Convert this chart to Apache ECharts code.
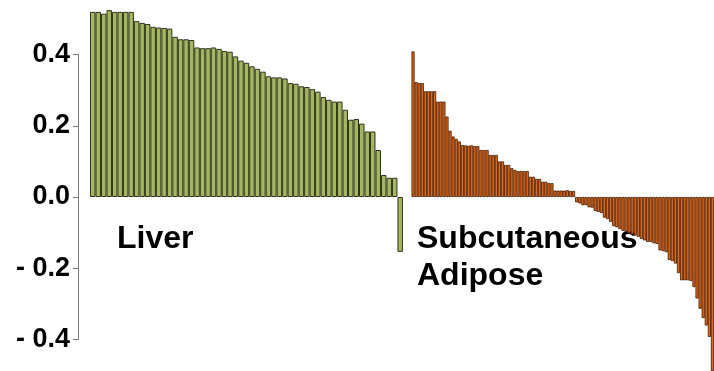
<!DOCTYPE html>
<html>
<head>
<meta charset="utf-8">
<script src="https://cdn.jsdelivr.net/npm/echarts@6/dist/echarts.min.js"></script>
<style>
  html, body { margin: 0; padding: 0; background: #fff; }
  #chart { width: 714px; height: 371px; }
</style>
</head>
<body>
<div id="chart"></div>
<script>
// 数据
const liverValues = [
  0.52, 0.52, 0.515, 0.525, 0.52, 0.52, 0.52, 0.52,
  0.494, 0.489, 0.486, 0.478, 0.476, 0.475, 0.473, 0.45, 0.443, 0.443, 0.441,
  0.42, 0.418, 0.418, 0.42, 0.416, 0.41, 0.408, 0.395, 0.383, 0.377, 0.367,
  0.36, 0.352, 0.339, 0.336, 0.336, 0.333, 0.32, 0.318,
  0.311, 0.309, 0.303, 0.296, 0.281, 0.273, 0.268, 0.268, 0.245, 0.217,
  0.219, 0.206, 0.184, 0.184, 0.132, 0.062, 0.054, 0.054, -0.154
];
const adiposeValues = [
  0.409, 0.323, 0.32, 0.32, 0.297, 0.297, 0.297, 0.297, 0.268, 0.268, 0.268,
  0.226, 0.186, 0.17, 0.163, 0.156, 0.146, 0.145, 0.144, 0.145, 0.143, 0.143,
  0.132, 0.132, 0.132, 0.118, 0.118, 0.118, 0.1, 0.1, 0.09, 0.09, 0.081, 0.076,
  0.073, 0.073, 0.073, 0.073, 0.057, 0.057, 0.051, 0.051, 0.043, 0.043,
  0.039, 0.039, 0.018, 0.018, 0.018, 0.018, 0.019, 0.017, 0.017,
  -0.015, -0.018, -0.023, -0.023, -0.029, -0.03, -0.039, -0.042, -0.045,
  -0.058, -0.062, -0.07, -0.082, -0.085, -0.09, -0.095, -0.098, -0.102,
  -0.105, -0.108, -0.112, -0.118, -0.122, -0.126, -0.126, -0.13, -0.132,
  -0.15, -0.152, -0.155, -0.177, -0.18, -0.187, -0.214, -0.234, -0.234,
  -0.234, -0.236, -0.253, -0.285, -0.314, -0.34, -0.361, -0.393, -0.52
];
const yTicks = [-0.4, -0.2, 0, 0.2, 0.4];
const yTickLabels = ['- 0.4', '- 0.2', '0.0', '0.2', '0.4'];
const groupLabels = ['Liver', 'Subcutaneous', 'Adipose'];

// 比例: 零点在 y=197，每单位 356px
const ZERO_Y = 197;
const PX_PER_UNIT = 356;
const H = 371;
const dataMax = ZERO_Y / PX_PER_UNIT;
const dataMin = -(H - ZERO_Y) / PX_PER_UNIT;

const font = "'Liberation Sans', Arial, sans-serif";
const hiddenY = (min, max, gridIndex) => ({
  type: 'value', gridIndex, min, max, show: false
});
const hiddenX = (n, gridIndex) => ({
  type: 'category', gridIndex, data: Array.from({ length: n }, (_, i) => i + 1),
  show: false
});

const chart = echarts.init(document.getElementById('chart'));
chart.setOption({
  animation: false,
  grid: [
    // 坐标轴显示
    { left: 78, width: 1, top: ZERO_Y - 0.4 * PX_PER_UNIT, height: 0.8 * PX_PER_UNIT },
    // Liver
    { left: 90, width: liverValues.length * 5.49, top: 0, height: H },
    // Subcutaneous Adipose
    { left: 411.5, width: adiposeValues.length * 3.1, top: 0, height: H }
  ],
  xAxis: [
    hiddenX(1, 0),
    hiddenX(liverValues.length, 1),
    hiddenX(adiposeValues.length, 2)
  ],
  yAxis: [
    {
      type: 'value', gridIndex: 0, min: yTicks[0], max: yTicks[yTicks.length - 1],
      interval: 0.2,
      axisLine: { show: true, lineStyle: { color: '#7a7a7a', width: 1 } },
      axisTick: { show: true, length: 5, lineStyle: { color: '#7a7a7a' } },
      splitLine: { show: false },
      axisLabel: {
        margin: 8,
        color: '#000',
        fontFamily: font,
        fontWeight: 'bold',
        fontSize: 27,
        formatter: (v) => {
          const i = yTicks.findIndex((t) => Math.abs(t - v) < 1e-6);
          return i >= 0 ? yTickLabels[i] : '';
        }
      }
    },
    hiddenY(dataMin, dataMax, 1),
    hiddenY(dataMin, dataMax, 2)
  ],
  series: [
    {
      type: 'bar', xAxisIndex: 1, yAxisIndex: 1,
      data: liverValues,
      barCategoryGap: '0%',
      itemStyle: { color: '#a4b65e', borderColor: '#2e331e', borderWidth: 1 }
    },
    {
      type: 'bar', xAxisIndex: 2, yAxisIndex: 2,
      data: adiposeValues,
      barCategoryGap: '0%',
      itemStyle: { color: '#e8640f', borderColor: '#3e1c06', borderWidth: 0.8 }
    }
  ],
  graphic: [
    {
      type: 'text', left: 117, top: 223,
      style: { text: groupLabels[0], font: `bold 32px ${font}`, fill: '#000' }
    },
    {
      type: 'text', left: 417, top: 223,
      style: { text: groupLabels[1], font: `bold 32px ${font}`, fill: '#000' }
    },
    {
      type: 'text', left: 417, top: 260,
      style: { text: groupLabels[2], font: `bold 32px ${font}`, fill: '#000' }
    }
  ]
});
</script>
</body>
</html>
